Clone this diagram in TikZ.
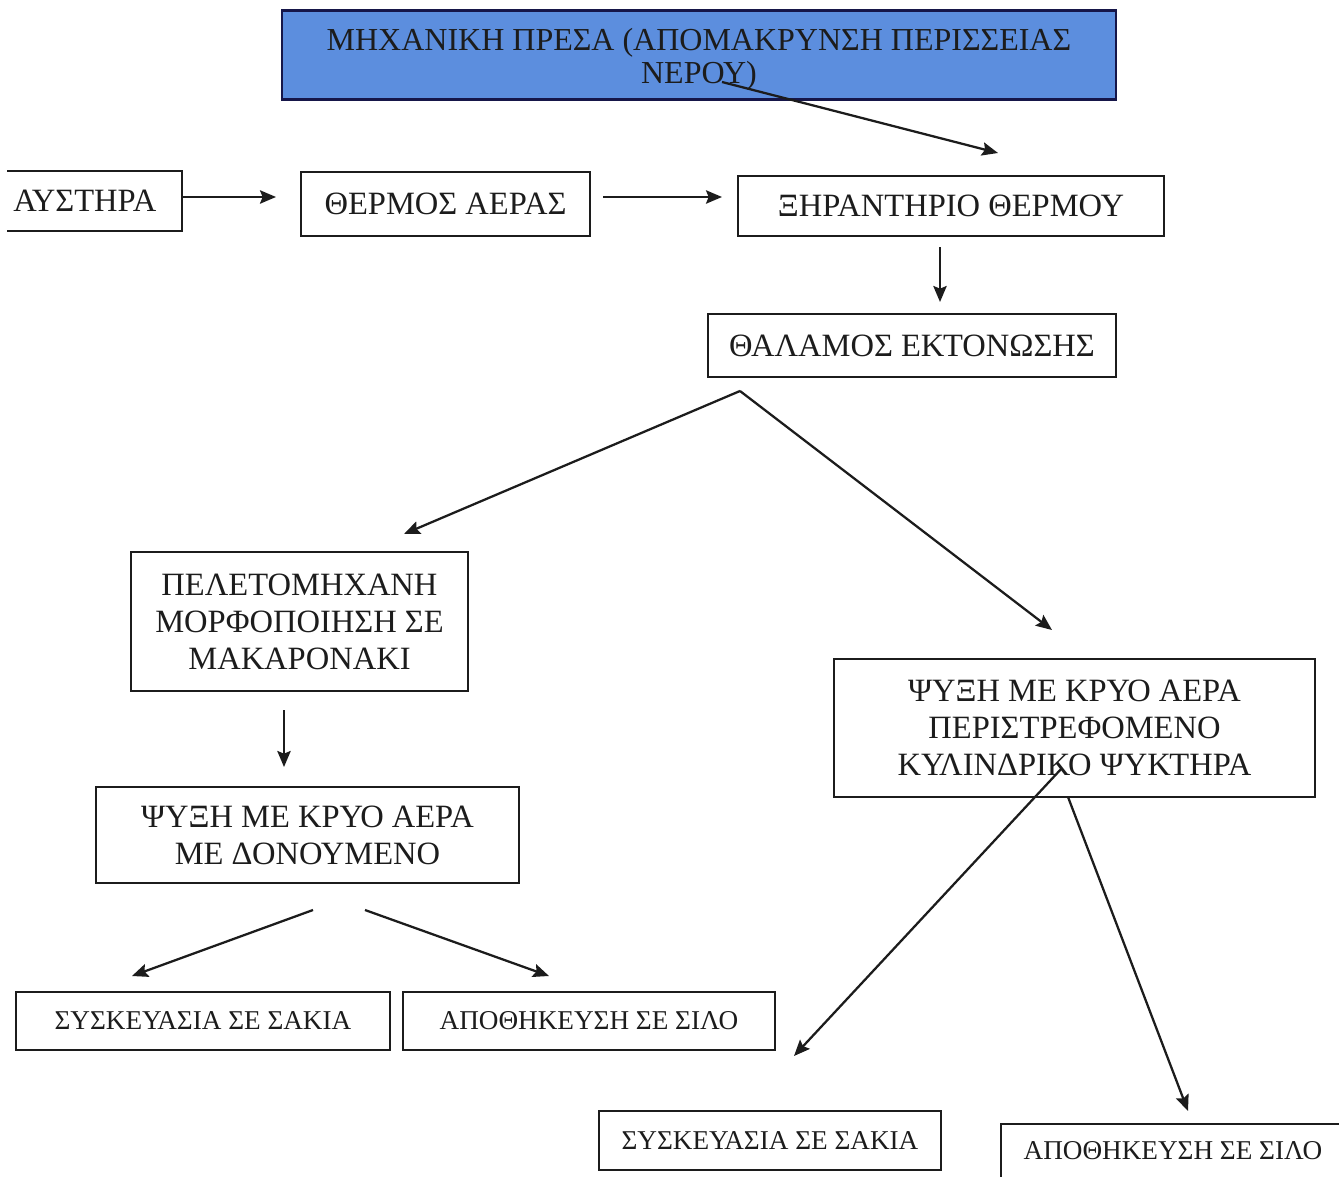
\documentclass[tikz,border=0pt]{standalone}
\usepackage{fontspec}
\setmainfont{Liberation Serif}
\usetikzlibrary{arrows.meta}
\definecolor{pressblue}{RGB}{92,142,222}
\definecolor{ink}{RGB}{28,28,28}
\begin{document}
\begin{tikzpicture}[x=0.75pt,y=-0.75pt,
  box/.style={draw=ink, line width=1.3pt, rectangle, inner sep=0pt, align=center,
    font=\fontsize{24.4}{27.75}\selectfont, text=ink},
  smallbox/.style={box, font=\fontsize{20.4}{23}\selectfont},
  arr/.style={draw=ink, line width=1.7pt, -{Stealth[length=12pt,width=10pt,inset=2pt]}}]
\useasboundingbox (0,0) rectangle (1339,1177);
\clip (0,0) rectangle (1339,1177);

% nodes
\node[box, fill=pressblue, draw=ink!80!blue, line width=1.6pt, minimum width=625.5pt, minimum height=66.75pt,
  font=\fontsize{24}{24.75}\selectfont] (press) at (699,55) {};
\node[align=center, inner sep=0pt, text=ink, font=\fontsize{24}{24.75}\selectfont] (presstext) at (699,59)
  {ΜΗΧΑΝΙΚΗ ΠΡΕΣΑ (ΑΠΟΜΑΚΡΥΝΣΗ ΠΕΡΙΣΣΕΙΑΣ\\ΝΕΡΟΥ)};
\node[box, draw=none, minimum width=129.75pt, minimum height=43.5pt, text width=121.75pt, align=left] (aus) at (94.5,201) {ΑΥΣΤΗΡΑ};
\draw[ink, line width=1.3pt] (aus.north west) -- (aus.north east) -- (aus.south east) -- (aus.south west);
\node[box, minimum width=216.75pt, minimum height=48pt] (therm) at (445.5,204) {ΘΕΡΜΟΣ ΑΕΡΑΣ};
\node[box, minimum width=319.5pt, minimum height=45pt] (xer) at (951,206) {ΞΗΡΑΝΤΗΡΙΟ ΘΕΡΜΟΥ};
\node[box, minimum width=306pt, minimum height=47.25pt] (thal) at (912,345.5) {ΘΑΛΑΜΟΣ ΕΚΤΟΝΩΣΗΣ};
\node[box, minimum width=252.75pt, minimum height=104.25pt] (pel) at (299.5,621.5)
  {ΠΕΛΕΤΟΜΗΧΑΝΗ\\ΜΟΡΦΟΠΟΙΗΣΗ ΣΕ\\ΜΑΚΑΡΟΝΑΚΙ};
\node[box, minimum width=317.25pt, minimum height=72pt] (psyL) at (307.5,835)
  {ΨΥΞΗ ΜΕ ΚΡΥΟ ΑΕΡΑ\\ΜΕ ΔΟΝΟΥΜΕΝΟ};
\node[smallbox, minimum width=280.5pt, minimum height=43.5pt] (syskL) at (203,1021) {ΣΥΣΚΕΥΑΣΙΑ ΣΕ ΣΑΚΙΑ};
\node[smallbox, minimum width=279pt, minimum height=43.5pt] (apoL) at (589,1021) {ΑΠΟΘΗΚΕΥΣΗ ΣΕ ΣΙΛΟ};
\node[box, minimum width=360.75pt, minimum height=103.5pt] (psyR) at (1074.5,728)
  {ΨΥΞΗ ΜΕ ΚΡΥΟ ΑΕΡΑ\\ΠΕΡΙΣΤΡΕΦΟΜΕΝΟ\\ΚΥΛΙΝΔΡΙΚΟ ΨΥΚΤΗΡΑ};
\node[smallbox, minimum width=256.5pt, minimum height=44.25pt] (syskR) at (770,1140.5) {ΣΥΣΚΕΥΑΣΙΑ ΣΕ ΣΑΚΙΑ};
\node[smallbox, minimum width=258pt, minimum height=40.5pt] (apoR) at (1173,1151) {ΑΠΟΘΗΚΕΥΣΗ ΣΕ ΣΙΛΟ};

% connector end points
\coordinate (c1s) at (181,197);  \coordinate (c1e) at (276,197);
\coordinate (c2s) at (603,197);  \coordinate (c2e) at (722,197);
\coordinate (c3s) at (722,82);   \coordinate (c3e) at (998,153);
\coordinate (c4s) at (940,247);  \coordinate (c4e) at (940,302);
\coordinate (c5s) at (740,391);  \coordinate (c5e) at (404,534);
\coordinate (c6e) at (1052,630);
\coordinate (c7s) at (284,710);  \coordinate (c7e) at (284,767);
\coordinate (c8s) at (313,910);  \coordinate (c8e) at (132,976);
\coordinate (c9s) at (365,910);  \coordinate (c9e) at (549,976);
\coordinate (c10s) at (1062,768); \coordinate (c10e) at (794,1056);
\coordinate (c11s) at (1068,797); \coordinate (c11e) at (1188,1111);

% connectors
\draw[arr] (c1s) -- (c1e);
\draw[arr] (c2s) -- (c2e);
\draw[arr] (c3s) -- (c3e);
\draw[arr] (c4s) -- (c4e);
\draw[arr] (c5s) -- (c5e);
\draw[arr] (c5s) -- (c6e);
\draw[arr] (c7s) -- (c7e);
\draw[arr] (c8s) -- (c8e);
\draw[arr] (c9s) -- (c9e);
\draw[arr] (c10s) -- (c10e);
\draw[arr] (c11s) -- (c11e);
\end{tikzpicture}
\end{document}
